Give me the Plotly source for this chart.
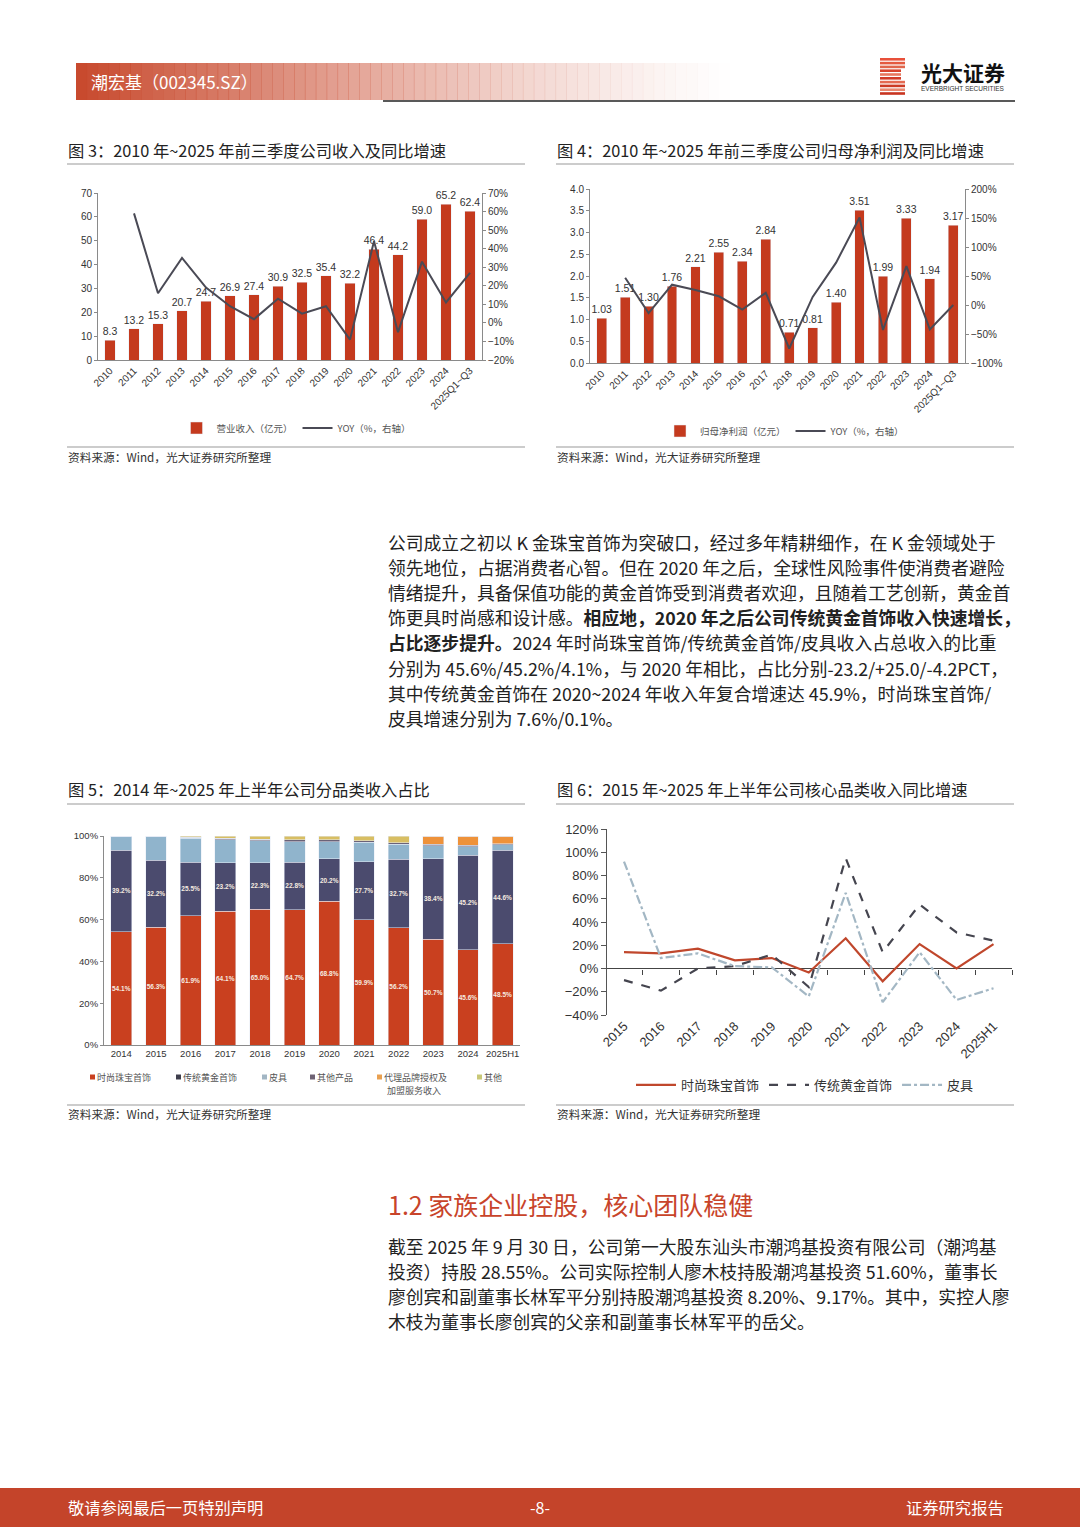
import plotly.graph_objects as go

W, H = 1080, 1527
def px(x): return x / W
def py(y): return 1 - y / H

# ---------------- data ----------------
years_a = ["2010", "2011", "2012", "2013", "2014", "2015", "2016", "2017", "2018",
           "2019", "2020", "2021", "2022", "2023", "2024", "2025Q1~Q3"]
revenue = [8.3, 13.2, 15.3, 20.7, 24.7, 26.9, 27.4, 30.9, 32.5, 35.4, 32.2, 46.4, 44.2, 59.0, 65.2, 62.4]
revenue_yoy = [None, 59, 16, 35, 19, 9, 2, 13, 5, 9, -9, 44, -5, 33, 11, 27]
profit = [1.03, 1.51, 1.30, 1.76, 2.21, 2.55, 2.34, 2.84, 0.71, 0.81, 1.40, 3.51, 1.99, 3.33, 1.94, 3.17]
profit_yoy = [None, 47, -14, 35, 26, 15, -8, 21, -75, 14, 73, 151, -43, 67, -42, 0]

years_b = ["2014", "2015", "2016", "2017", "2018", "2019", "2020", "2021", "2022", "2023", "2024", "2025H1"]
share_fashion = [54.1, 56.3, 61.9, 64.1, 65.0, 64.7, 68.8, 59.9, 56.2, 50.7, 45.6, 48.5]
share_gold = [39.2, 32.2, 25.5, 23.2, 22.3, 22.8, 20.2, 27.7, 32.7, 38.4, 45.2, 44.6]
share_leather = [6.7, 11.5, 11.5, 11.0, 10.5, 9.8, 8.3, 9.4, 7.1, 6.3, 4.1, 2.6]
share_otherprod = [0.0, 0.0, 0.5, 0.7, 0.7, 0.8, 0.8, 0.8, 0.7, 0.7, 0.7, 0.5]
share_brand = [0, 0, 0, 0, 0, 0, 0, 0, 0, 3.9, 4.4, 3.8]
share_other = [0, 0, 0.6, 1.0, 1.5, 1.9, 1.9, 2.2, 3.3, 0, 0, 0]

years_c = ["2015", "2016", "2017", "2018", "2019", "2020", "2021", "2022", "2023", "2024", "2025H1"]
yoy_fashion = [14, 13, 17, 7, 9, -3.5, 26, -11, 21, 0, 21]
yoy_gold = [-10, -19, 0, 2, 12, -16, 95, 14, 55, 31, 24]
yoy_leather = [92, 9, 13, 2, 1, -24, 65, -29, 14, -27, -17]

BAR_RED = "#C43A1E"
LINE_DARK = "#4A4A55"
CH = "Liberation Sans, Noto Sans CJK SC"
CJK = "Noto Sans CJK SC"

fig = go.Figure()

# ---------------- chart 3 ----------------
fig.add_trace(go.Bar(x=years_a, y=revenue, marker_color=BAR_RED, name="营业收入（亿元）",
                     text=[f"{v:.1f}" for v in revenue], textposition="outside", constraintext="none",
                     textfont=dict(size=10.5, color="#333", family=CH), cliponaxis=False,
                     width=0.44, xaxis="x", yaxis="y", legend="legend"))
fig.add_trace(go.Scatter(x=years_a, y=revenue_yoy, mode="lines", line=dict(color=LINE_DARK, width=2),
                         name="YOY（%，右轴）", xaxis="x", yaxis="y2", legend="legend"))

# ---------------- chart 4 ----------------
fig.add_trace(go.Bar(x=years_a, y=profit, marker_color=BAR_RED, name="归母净利润（亿元）",
                     text=[f"{v:.2f}" for v in profit], textposition="outside", constraintext="none",
                     textfont=dict(size=10.5, color="#333", family=CH), cliponaxis=False,
                     width=0.42, xaxis="x2", yaxis="y3", legend="legend2"))
fig.add_trace(go.Scatter(x=years_a, y=profit_yoy, mode="lines", line=dict(color=LINE_DARK, width=2),
                         name="YOY（%，右轴）", xaxis="x2", yaxis="y4", legend="legend2"))

# ---------------- chart 5 ----------------
stack = [
    ("时尚珠宝首饰", share_fashion, "#C9401F", True, "#C9401F"),
    ("传统黄金首饰", share_gold, "#4B4B6E", True, "#3E3E4C"),
    ("皮具", share_leather, "#90B4CC", False, "#A2B6C4"),
    ("其他产品", share_otherprod, "#6B6278", False, "#6E6274"),
    ("代理品牌授权及<br>加盟服务收入", share_brand, "#EE923A", False, "#E9A050"),
    ("其他", share_other, "#D8BE62", False, "#C9C878"),
]
for name, vals, col, lab, _ in stack:
    fig.add_trace(go.Bar(x=years_b, y=vals, name=name, marker_color=col, width=0.6,
                         text=[f"<b>{v:.1f}%</b>" for v in vals] if lab else None,
                         textposition="inside" if lab else None, constraintext="none",
                         insidetextanchor="middle", textangle=0,
                         textfont=dict(size=6.5, color="#F6ECE0", family=CH),
                         showlegend=False, xaxis="x3", yaxis="y5"))

# ---------------- chart 6 ----------------
fig.add_trace(go.Scatter(x=years_c, y=yoy_fashion, mode="lines", name="时尚珠宝首饰",
                         line=dict(color="#C0472C", width=2.2), xaxis="x4", yaxis="y6", legend="legend4"))
fig.add_trace(go.Scatter(x=years_c, y=yoy_gold, mode="lines", name="传统黄金首饰",
                         line=dict(color="#45454F", width=2.2, dash="dash"), xaxis="x4", yaxis="y6", legend="legend4"))
fig.add_trace(go.Scatter(x=years_c, y=yoy_leather, mode="lines", name="皮具",
                         line=dict(color="#A3B7C4", width=2.2, dash="dashdot"), xaxis="x4", yaxis="y6", legend="legend4"))
# invisible helper carrying the category tick marks drawn on the zero line
fig.add_trace(go.Scatter(x=years_c, y=yoy_fashion, mode="lines", line=dict(width=0), opacity=0,
                         hoverinfo="skip", showlegend=False, xaxis="x5", yaxis="y6"))

axis_common = dict(showgrid=False, zeroline=False, showline=True, linecolor="#8A8A8A", linewidth=1,
                   tickfont=dict(size=10, color="#333", family=CH))

fig.update_layout(
    width=W, height=H, margin=dict(l=0, r=0, t=0, b=0, pad=0, autoexpand=False),
    paper_bgcolor="white", plot_bgcolor="rgba(0,0,0,0)",
    barmode="stack", font=dict(family=CJK),
    # chart 3
    xaxis=dict(axis_common, domain=[px(98), px(482)], anchor="y", type="category", tickangle=-45,
               ticks="", range=[-0.5, 15.5]),
    yaxis=dict(axis_common, domain=[py(360), py(193)], anchor="x", range=[0, 70], dtick=10,
               ticks="outside", ticklen=3, tickcolor="#8A8A8A"),
    yaxis2=dict(axis_common, overlaying="y", side="right", anchor="x", range=[-20, 70], dtick=10,
                ticksuffix="%", ticks="outside", ticklen=3, tickcolor="#8A8A8A"),
    # chart 4
    xaxis2=dict(axis_common, domain=[px(590), px(965)], anchor="y3", type="category", tickangle=-45,
                ticks="", range=[-0.5, 15.5]),
    yaxis3=dict(axis_common, domain=[py(363), py(189)], anchor="x2", range=[0, 4.0], dtick=0.5,
                tickformat=".1f", ticks="outside", ticklen=3, tickcolor="#8A8A8A"),
    yaxis4=dict(axis_common, overlaying="y3", side="right", anchor="x2", range=[-100, 200], dtick=50,
                ticksuffix="%", ticks="outside", ticklen=3, tickcolor="#8A8A8A"),
    # chart 5
    xaxis3=dict(axis_common, domain=[px(104), px(520)], anchor="y5", type="category", tickangle=0,
                ticks="", range=[-0.5, 11.5], tickfont=dict(size=9.5, color="#333", family=CH)),
    yaxis5=dict(axis_common, domain=[py(1045), py(836)], anchor="x3", range=[0, 100], dtick=20,
                ticksuffix="%", ticks="outside", ticklen=3, tickcolor="#8A8A8A",
                tickfont=dict(size=9.5, color="#333", family=CH)),
    # chart 6
    xaxis4=dict(axis_common, domain=[px(607), px(1012)], anchor="y6", type="category", tickangle=-45,
                ticks="", showline=False, range=[-0.46, 10.5],
                tickfont=dict(size=13, color="#333", family=CH)),
    xaxis5=dict(overlaying="x4", anchor="free", position=py(968.5), type="category", range=[-0.46, 10.5],
                showline=False, showgrid=False, zeroline=False, showticklabels=False,
                ticks="outside", tickson="boundaries", ticklen=5, tickcolor="#444"),
    yaxis6=dict(axis_common, domain=[py(1015), py(829)], anchor="x4", range=[-40, 120], dtick=20,
                ticksuffix="%", ticks="outside", ticklen=5, tickcolor="#555", linecolor="#555",
                zeroline=True, zerolinecolor="#444", zerolinewidth=1.2,
                tickfont=dict(size=13, color="#333", family=CH)),
    legend=dict(orientation="h", x=px(297), y=py(428), xanchor="center", yanchor="middle",
                font=dict(size=9.5, color="#555", family=CJK), bgcolor="rgba(0,0,0,0)",
                itemwidth=30, traceorder="normal"),
    legend2=dict(orientation="h", x=px(785), y=py(431), xanchor="center", yanchor="middle",
                 font=dict(size=9.5, color="#555", family=CJK), bgcolor="rgba(0,0,0,0)", itemwidth=30,
                 traceorder="normal"),
    legend4=dict(orientation="h", x=px(805), y=py(1085), xanchor="center", yanchor="middle",
                 font=dict(size=13, color="#333", family=CJK), bgcolor="rgba(0,0,0,0)", itemwidth=40,
                 traceorder="normal"),
)

shapes = []
annotations = []

def text(x, y, s, size, color="#222", anchor="left", family=CJK, **kw):
    annotations.append(dict(x=px(x), y=py(y), xref="paper", yref="paper", text=s, showarrow=False,
                            xanchor=anchor, yanchor="middle", borderpad=0,
                            font=dict(size=size, color=color, family=family), **kw))

def hline(x0, x1, y, color="#999", width=1):
    shapes.append(dict(type="line", xref="paper", yref="paper", x0=px(x0), x1=px(x1), y0=py(y), y1=py(y),
                       line=dict(color=color, width=width)))

def rect(x0, x1, y0, y1, color, opacity=1, layer="below"):
    shapes.append(dict(type="rect", xref="paper", yref="paper", x0=px(x0), x1=px(x1), y0=py(y1), y1=py(y0),
                       fillcolor=color, opacity=opacity, line=dict(width=0), layer=layer))

# chart 5 legend (compact, like the source)
leg_x = [90, 176, 262, 310, 377, 477]
for (name, _, _, _, lcol), lx in zip(stack, leg_x):
    rect(lx, lx + 5, 1074.5, 1079.5, lcol, layer="above")
    if "<br>" in name:
        a, b = name.split("<br>")
        text(lx + 6, 1077, a, 9, color="#555")
        text(lx + 9, 1090, b, 9, color="#555")
    else:
        text(lx + 6, 1077, name, 9, color="#555")

# header gradient bar
n = 60
x_start, x_end = 76, 730
for i in range(n):
    a = 1 - i / n
    x0 = x_start + (x_end - x_start) * i / n
    x1 = x_start + (x_end - x_start) * (i + 1) / n + 0.5
    rect(x0, x1, 63, 100, "#C84A2E", opacity=max(a, 0) ** 1.3)
text(90, 81, "潮宏基（002345.SZ）", 17, color="white")
hline(383, 1015, 101, color="#222", width=1.6)

# logo
stripe_cols = ["#E8503A", "#E45A40", "#E0664C", "#D8442E", "#E87860", "#D23C28", "#E46A52", "#CC3A24", "#E88870", "#C83420"]
for i, c in enumerate(stripe_cols):
    y0 = 58 + i * 3.8
    rect(880, 905 - (4 if i in (3, 4, 5) else 0), y0, y0 + 2.6, c)
text(920, 72, "<b>光大证券</b>", 21, color="#111")
text(920, 89, "EVERBRIGHT SECURITIES", 6.5, color="#333", family="Liberation Sans")

# chart titles and rules
SRC = "资料来源：Wind，光大证券研究所整理"
text(67, 150, "图 3：2010 年~2025 年前三季度公司收入及同比增速", 16.3)
text(556, 150, "图 4：2010 年~2025 年前三季度公司归母净利润及同比增速", 16.3)
hline(67, 525, 164, "#999")
hline(556, 1014, 164, "#999")
hline(67, 525, 447, "#999")
hline(556, 1014, 447, "#999")
text(67, 456, SRC, 11.7, color="#333")
text(556, 456, SRC, 11.7, color="#333")

text(67, 789, "图 5：2014 年~2025 年上半年公司分品类收入占比", 16.3)
text(556, 789, "图 6：2015 年~2025 年上半年公司核心品类收入同比增速", 16.3)
hline(67, 525, 804, "#999")
hline(556, 1014, 804, "#999")
hline(67, 525, 1105, "#999")
hline(556, 1014, 1105, "#999")
text(67, 1113, SRC, 11.7, color="#333")
text(556, 1113, SRC, 11.7, color="#333")

# body paragraph 1
para1 = [
    "公司成立之初以 K 金珠宝首饰为突破口，经过多年精耕细作，在 K 金领域处于",
    "领先地位，占据消费者心智。但在 2020 年之后，全球性风险事件使消费者避险",
    "情绪提升，具备保值功能的黄金首饰受到消费者欢迎，且随着工艺创新，黄金首",
    "饰更具时尚感和设计感。<b>相应地，2020 年之后公司传统黄金首饰收入快速增长，</b>",
    "<b>占比逐步提升。</b>2024 年时尚珠宝首饰/传统黄金首饰/皮具收入占总收入的比重",
    "分别为 45.6%/45.2%/4.1%，与 2020 年相比，占比分别-23.2/+25.0/-4.2PCT，",
    "其中传统黄金首饰在 2020~2024 年收入年复合增速达 45.9%，时尚珠宝首饰/",
    "皮具增速分别为 7.6%/0.1%。",
]
for i, s in enumerate(para1):
    text(387, 542 + i * 25.1, s, 17.8)

text(387, 1204, "1.2 家族企业控股，核心团队稳健", 25, color="#C8442A")
para2 = [
    "截至 2025 年 9 月 30 日，公司第一大股东汕头市潮鸿基投资有限公司（潮鸿基",
    "投资）持股 28.55%。公司实际控制人廖木枝持股潮鸿基投资 51.60%，董事长",
    "廖创宾和副董事长林军平分别持股潮鸿基投资 8.20%、9.17%。其中，实控人廖",
    "木枝为董事长廖创宾的父亲和副董事长林军平的岳父。",
]
for i, s in enumerate(para2):
    text(387, 1246 + i * 25.1, s, 17.8)

# footer
rect(0, 1080, 1488, 1527, "#C4442A")
text(67, 1507, "敬请参阅最后一页特别声明", 16.3, color="white")
text(540, 1507, "-8-", 16, color="white", anchor="center")
text(1005, 1507, "证券研究报告", 16.3, color="white", anchor="right")

fig.update_layout(shapes=shapes, annotations=annotations)
fig.write_html("out.html", config={"displayModeBar": False},
               post_script="document.body.style.margin='0';document.body.style.overflow='hidden';")
